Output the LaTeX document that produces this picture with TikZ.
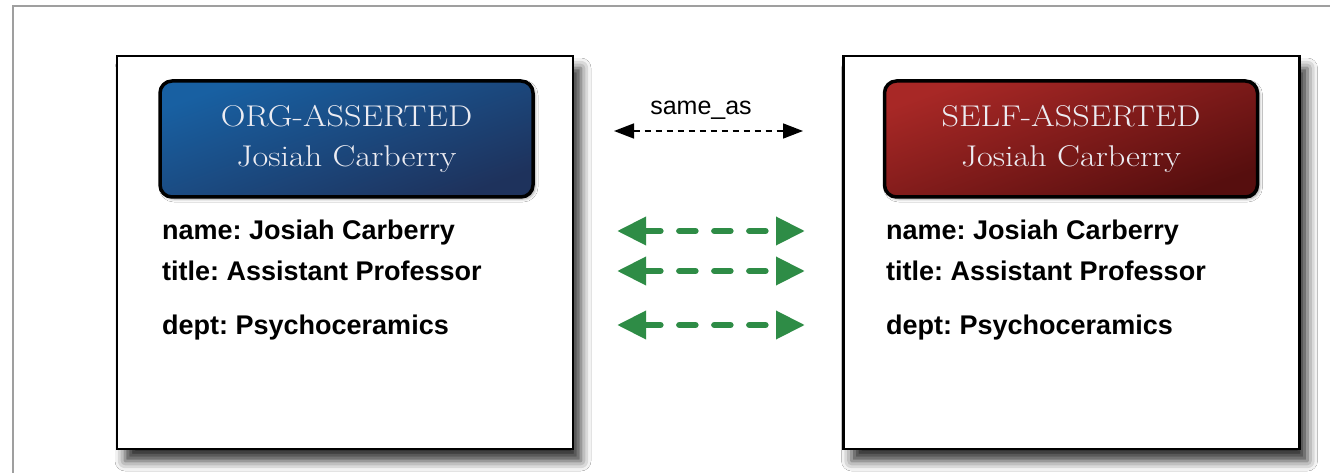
\documentclass[tikz,border=0pt]{standalone}
\usepackage{fontspec}
\newfontfamily\arial{Liberation Sans}
\usetikzlibrary{arrows.meta,shadows.blur}
\definecolor{blueA}{RGB}{24,96,162}
\definecolor{blueB}{RGB}{30,50,92}
\definecolor{redA}{RGB}{168,40,38}
\definecolor{redB}{RGB}{86,14,14}
\definecolor{grn}{RGB}{46,140,70}
\definecolor{hdrtxt}{RGB}{236,236,242}
\newcommand\hdrline[1]{\scalebox{1.14}[1]{#1}}
\tikzset{
  card/.style={draw=black, line width=2.5pt, fill=white, minimum width=456pt, minimum height=393pt,
     blur shadow={shadow xshift=8pt, shadow yshift=-12pt, shadow blur radius=10pt, shadow opacity=80}},
  hdr/.style={draw=black, line width=3.5pt, rounded corners=12pt, minimum width=373pt, minimum height=116pt,
     text=hdrtxt, align=center, inner sep=0pt, font=\fontsize{30}{40}\selectfont,
     blur shadow={shadow xshift=2pt, shadow yshift=-2pt, shadow blur radius=3pt, shadow opacity=40}},
  blueh/.style={hdr, top color=blueA, bottom color=blueB, shading angle=20},
  redh/.style={hdr, top color=redA, bottom color=redB, shading angle=20},
  attr/.style={anchor=base west, inner sep=0pt, font=\arial\bfseries\fontsize{27}{30}\selectfont\frenchspacing},
  sameas/.style={draw=black, line width=1.6pt, dash pattern=on 6pt off 5pt,
     {Triangle[length=20pt,width=15pt]}-{Triangle[length=20pt,width=15pt]}},
  grnarrow/.style={draw=grn, line width=6.5pt, line cap=round, dash pattern=on 16pt off 19pt,
     {Triangle[length=29pt,width=27pt]}-{Triangle[length=29pt,width=27pt]}},
}
\begin{document}
\begin{tikzpicture}[x=1pt,y=-1pt]
\useasboundingbox (0,0) rectangle (1330,473);
\fill[white] (0,0) rectangle (1330,473);
\draw[gray!75, line width=1.5pt] (13,473) -- (13,6) -- (1330,6);
% cards
\node[card] (L) at (345,252.5) {};
\node[card] (R) at (1071.5,252.5) {};
% headers
\node[blueh] (hL) at (346.5,139) {\hdrline{ORG-ASSERTED}\\\hdrline{Josiah Carberry}};
\node[redh] (hR) at (1071,139) {\hdrline{SELF-ASSERTED}\\\hdrline{Josiah Carberry}};
% attributes
\node[attr] (nL) at (162,239) {name: Josiah Carberry};
\node[attr] (tL) at (162,280) {title: Assistant Professor};
\node[attr] (dL) at (162,334) {dept: Psychoceramics};
\node[attr] (nR) at (886,239) {name: Josiah Carberry};
\node[attr] (tR) at (886,280) {title: Assistant Professor};
\node[attr] (dR) at (886,334) {dept: Psychoceramics};
% same_as
\coordinate (sa1) at (614,131);
\coordinate (sa2) at (803,131);
\draw[sameas] (sa1) -- (sa2);
\node[font=\arial\fontsize{25}{30}\selectfont, anchor=base, inner sep=0pt] (salbl) at (701,115) {same\_as};
% green arrows
\coordinate (g1a) at (617,231);
\coordinate (g1b) at (805,231);
\coordinate (g2a) at (617,271);
\coordinate (g2b) at (805,271);
\coordinate (g3a) at (617,325);
\coordinate (g3b) at (805,325);
\draw[grnarrow] (g1a) -- (g1b);
\draw[grnarrow] (g2a) -- (g2b);
\draw[grnarrow] (g3a) -- (g3b);
\end{tikzpicture}
\end{document}
